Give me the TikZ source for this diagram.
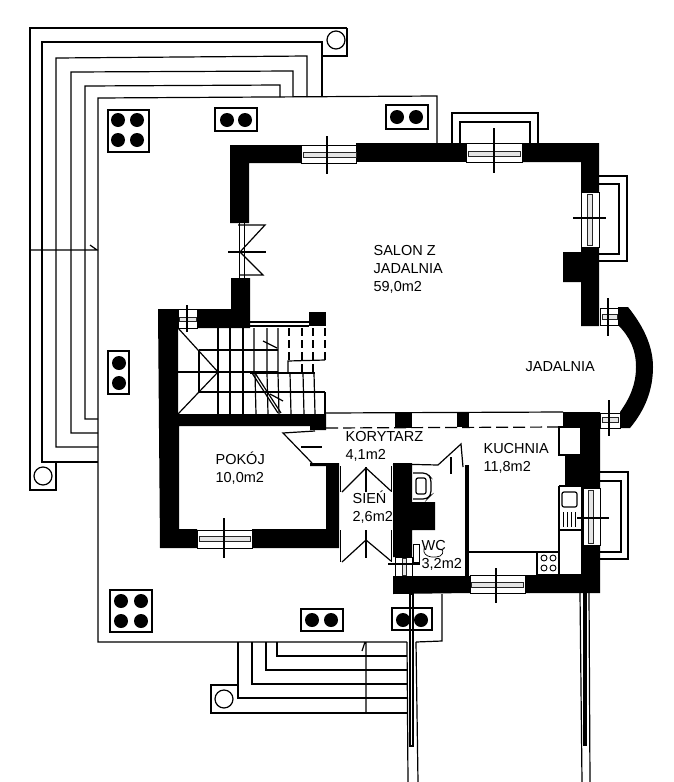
\documentclass[tikz,border=0pt]{standalone}
\usepackage{fontspec}
\setmainfont{Liberation Sans}
\begin{document}
\begin{tikzpicture}[x=1pt, y=-1pt, line width=1.2pt,
    wall/.style = {fill=black, draw=none},
    hole/.style = {fill=black, draw=none, minimum size=14pt, circle, inner sep=0pt},
    ring/.style = {draw, fill=white, circle, minimum size=18pt, inner sep=0pt},
    burner/.style = {draw, line width=0.9pt, circle, minimum size=6pt, inner sep=0pt},
    thin line/.style = {line width=0.7pt},
    glass/.style = {line width=0.8pt, draw=black!85, fill=black!10},
    broken/.style = {dash pattern=on 12pt off 5pt},
    short broken/.style = {dash pattern=on 8pt off 4pt},
    room/.style = {align=left, anchor=west, inner sep=0pt, font=\fontsize{14.5}{18}\selectfont}]

    \useasboundingbox (0,0) rectangle (673,782);

    % terrace steps, left side
    \draw (347,28) -- (30,28) -- (30,490) -- (56,490) -- (56,462);
    \draw (347,28) -- (347,56) -- (322,56);
    \draw (322,97) -- (322,42) -- (42,42) -- (42,462) -- (98,462);
    \draw (307,97) -- (307,56) -- (56,58) -- (56,447) -- (98,447);
    \draw (293,97) -- (293,71) -- (71,72) -- (71,433) -- (98,433);
    \draw (280,97) -- (280,85) -- (85,86) -- (85,419) -- (98,419);
    \draw (30,250) -- (98,250) (90,245) -- (97,250);
    \node[ring] (ringa) at (336,40) {};
    \node[ring] (ringb) at (43,476) {};

    % deck
    \draw (437,143) -- (437,96) -- (98,98) -- (98,642) -- (407,642);
    \draw (416,642) -- (442,641) -- (442,594);

    % terrace steps, bottom
    \draw (238,642) -- (238,698) -- (407,698);
    \draw (252,642) -- (252,684) -- (407,684);
    \draw (266,642) -- (266,670) -- (407,670);
    \draw (277,642) -- (277,656) -- (407,656);
    \draw (238,685) -- (211,685) -- (211,713) -- (407,713);
    \draw (366,642) -- (366,712) (362,651) -- (365,642);
    \node[ring] (ringc) at (224,699) {};

    % balustrades
    \draw (407,642) -- (408,782) (416,642) -- (418,782);
    \draw[fill=white] (410,594) rectangle (413,746);
    \draw (580,593) -- (582,782) (589,593) -- (590,782);
    \draw[fill=white] (584,593) rectangle (586,745);

    % planters
    \draw (108,110) rectangle (149,152);
    \node[hole] (a1) at (118,120) {};
    \node[hole] (a2) at (137,120) {};
    \node[hole] (a3) at (118,140) {};
    \node[hole] (a4) at (137,140) {};
    \draw (215,108) rectangle (257,131);
    \node[hole] (b1) at (227,120) {};
    \node[hole] (b2) at (245,120) {};
    \draw (386,105) rectangle (428,129);
    \node[hole] (c1) at (397,117) {};
    \node[hole] (c2) at (416,117) {};
    \draw (108,351) rectangle (129,394);
    \node[hole] (d1) at (119,363) {};
    \node[hole] (d2) at (119,383) {};
    \draw (110,590) rectangle (152,632);
    \node[hole] (e1) at (121,601) {};
    \node[hole] (e2) at (141,601) {};
    \node[hole] (e3) at (121,621) {};
    \node[hole] (e4) at (141,621) {};
    \draw (301,609) rectangle (343,631);
    \node[hole] (f1) at (312,620) {};
    \node[hole] (f2) at (331,620) {};
    \draw (392,608) rectangle (432,630);
    \node[hole] (g1) at (403,620) {};
    \node[hole] (g2) at (421,620) {};

    % balconies
    \draw (452,143) -- (452,113) -- (538,113) -- (538,143);
    \draw (460,143) -- (460,122) -- (530,122) -- (530,143);
    \draw (599,176) -- (627,176) -- (627,261) -- (599,261);
    \draw (599,184) -- (619,184) -- (619,254) -- (599,254);
    \draw (600,472) -- (628,472) -- (628,559) -- (600,559);
    \draw (600,481) -- (621,481) -- (621,552) -- (600,552);

    % walls
    \fill[wall] (230,145) -- (301,145) -- (301,163) -- (249,163) -- (249,223) -- (230,223) -- cycle;
    \fill[wall] (356,143) -- (466,143) -- (466,162) -- (356,162) -- cycle;
    \fill[wall] (522,143) -- (599,143) -- (599,192) -- (581,192) -- (581,162) -- (522,162) -- cycle;
    \fill[wall] (581,247) -- (599,247) -- (599,326) -- (581,326) -- (581,282) -- (563,282) -- (563,252) -- (581,252) -- cycle;
    \fill[wall] (618,307) -- (628,307) .. controls (645,328) and (653,348) .. (653,367) .. controls (653,390) and (645,410) .. (630,428) -- (620,428) -- (620,412) .. controls (630,398) and (636,384) .. (636,367) .. controls (636,350) and (630,337) .. (618,325) -- cycle;
    \fill[wall] (158,309) -- (178,309) -- (178,414) -- (326,414) -- (326,430) -- (310,430) -- (310,426) -- (179,426) -- (179,529) -- (197,529) -- (197,548) -- (160,548) -- cycle;
    \fill[wall] (197,309) -- (231,309) -- (231,278) -- (250,278) -- (250,328) -- (197,328) -- cycle;
    \fill[wall] (309,312) rectangle (326,326);
    \fill[wall] (252,529) -- (326,529) -- (326,466) -- (310,466) -- (310,463) -- (339,463) -- (339,548) -- (252,548) -- cycle;
    \fill[wall] (563,412) -- (600,412) -- (600,488) -- (582,488) -- (582,486) -- (565,486) -- (565,455) -- (582,455) -- (582,428) -- (563,428) -- cycle;
    \fill[wall] (583,545) -- (600,545) -- (600,593) -- (525,593) -- (525,575) -- (583,575) -- cycle;
    \fill[wall] (393,576) -- (470,576) -- (470,593) -- (393,594) -- cycle;
    \fill[wall] (393,463) -- (412,463) -- (412,502) -- (435,502) -- (435,530) -- (412,530) -- (412,557) -- (393,557) -- cycle;
    \fill[wall] (395,413) rectangle (412,428);
    \fill[wall] (457,413) rectangle (469,427);
    \fill[wall] (465,465) rectangle (469,576);

    % windows
    \draw[thin line] (301,145) rectangle (356,163);
    \draw[glass] (303,152) rectangle (356,157);
    \draw (327,136) -- (327,174);
    \draw[thin line] (466,143) rectangle (522,162);
    \draw[glass] (468,151) rectangle (520,156);
    \draw (494,128) -- (494,173);
    \draw[thin line] (581,192) rectangle (599,247);
    \draw[glass] (587,194) rectangle (592,245);
    \draw (573,218) -- (606,218);
    \draw[thin line] (600,308) rectangle (618,325);
    \draw[glass] (602,314) rectangle (617,319);
    \draw (608,298) -- (608,336);
    \draw[thin line] (600,413) rectangle (620,428);
    \draw[glass] (602,417) rectangle (618,422);
    \draw (609,400) -- (609,436);
    \draw[thin line] (583,488) rectangle (600,545);
    \draw[glass] (588,490) rectangle (593,543);
    \draw (577,518) -- (609,518);
    \draw[thin line] (470,575) rectangle (525,593);
    \draw[glass] (471,582) rectangle (523,587);
    \draw (496,568) -- (496,603);
    \draw[thin line] (197,530) rectangle (252,548);
    \draw[glass] (199,536) rectangle (250,541);
    \draw (224,518) -- (224,558);
    \draw[thin line] (178,309) rectangle (197,328);
    \draw[glass] (179,317) rectangle (196,321);
    \draw (187,305) -- (187,332);
    \draw[thin line] (395,557) rectangle (412,576);
    \draw[glass] (402,558) rectangle (406,575);
    \draw (388,564) -- (420,564);

    % terrace door
    \draw[thin line] (239,223) -- (239,278) (244,223) -- (244,278);
    \draw (228,252) -- (266,252);
    \draw (238,225) -- (265,225) -- (240,252) -- (263,275) -- (240,275);

    % stairs
    \draw (218,328) -- (218,414);
    \draw (230,328) -- (230,414);
    \draw (243,328) -- (243,414);
    \draw (254,328) -- (254,372) (255,373) -- (256,414);
    \draw (267,328) -- (267,372) (267,373) -- (268,414);
    \draw (278,328) -- (278,372) (278,373) -- (279,414);
    \draw (290,373) -- (291,414);
    \draw (303,373) -- (304,414);
    \draw (314,373) -- (315,414);
    \draw (325,392) -- (325,414);
    \draw (199,350) -- (278,350);
    \draw (199,392) -- (325,392);
    \draw (178,372) -- (278,372);
    \draw (250,373) -- (315,373);
    \draw (199,350) -- (199,392);
    \draw (178,328) -- (218,372) -- (178,414);
    \draw (263,341) -- (277,348) (270,394) -- (283,401);
    \draw (252,373) -- (278,413) (255,373) -- (281,413);
    \draw (250,322) -- (309,322) (250,326) -- (309,326);
    \draw (288,372) -- (288,361) -- (325,360);
    \draw[short broken] (289,328) -- (289,361);
    \draw[short broken] (302,328) -- (302,372);
    \draw[short broken] (313,328) -- (313,372);
    \draw[short broken] (325,328) -- (325,360);

    % corridor
    \draw (326,413) -- (563,412);
    \draw[broken] (326,428) -- (563,427);
    \draw (315,431) -- (283,433) -- (312,463);
    \draw (301,447) -- (322,447);

    % entrance doors
    \draw[thin line] (340,466) -- (340,492) (340,530) -- (340,562);
    \draw[thin line] (391,466) -- (391,492) (391,530) -- (391,562);
    \draw (342,492) -- (366,468) -- (391,491);
    \draw (342,562) -- (366,540) -- (391,561);
    \draw (366,467) -- (366,492) (366,530) -- (366,558);

    % wc
    \draw (393,464) -- (438,465) -- (461,444) -- (463,467);
    \draw (451,457) -- (451,474);
    \draw[rounded corners=4pt] (413,473) -- (427,473) -- (431,478) -- (431,495) -- (427,499) -- (413,499);
    \draw[rounded corners=2pt] (416,478) rectangle (426,494);
    \draw[thin line] (413,544) rectangle (419,562);
    \draw[thin line] (425,546) .. controls (420,556) and (432,559) .. (440,556) .. controls (445,553) and (443,548) .. (438,549);

    % kitchen
    \draw (469,552) -- (559,552);
    \draw[fill=white] (559,427) rectangle (581,455);
    \draw (559,486) -- (559,575) -- (583,575);
    \draw (559,486) -- (582,486) -- (582,575);
    \draw (537,553) -- (537,575) -- (559,575);
    \node[burner] (ba) at (544,558) {};
    \node[burner] (bb) at (553,558) {};
    \node[burner] (bc) at (544,568) {};
    \node[burner] (bd) at (553,568) {};
    \draw[rounded corners=2pt] (562,492) rectangle (577,507);
    \draw[thin line] (563,512) -- (563,527) (567,512) -- (567,527) (571,512) -- (571,527) (575,512) -- (575,527);
    \draw (559,530) -- (582,530);

    % rooms
    \node[room] (salon) at (373,269) {SALON Z\\JADALNIA\\59,0m2};
    \node[room] (jadalnia) at (525,367) {JADALNIA};
    \node[room] (kuchnia) at (483,458) {KUCHNIA\\11,8m2};
    \node[room] (pokoj) at (215,468) {POKÓJ\\10,0m2};
    \node[room] (korytarz) at (345,446) {KORYTARZ\\4,1m2};
    \node[room] (sien) at (352,507) {SIEŃ\\2,6m2};
    \node[room] (wc) at (421,555) {WC\\3,2m2};

\end{tikzpicture}
\end{document}
